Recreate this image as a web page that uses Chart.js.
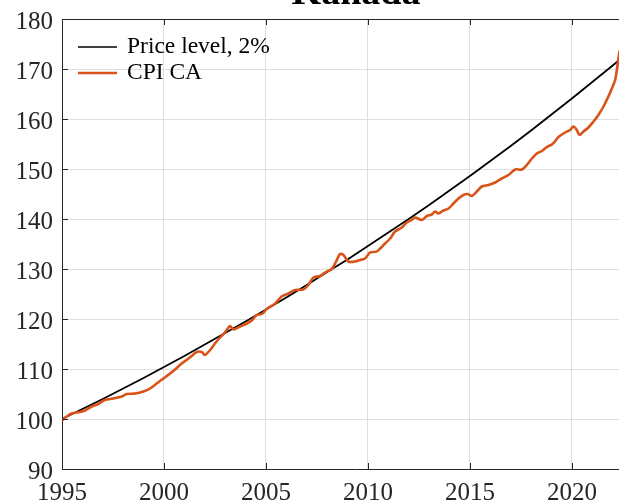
<!DOCTYPE html>
<html>
<head>
<meta charset="utf-8">
<script src="https://cdn.jsdelivr.net/npm/chart.js@4.4.1/dist/chart.umd.min.js"></script>
<style>
  html, body { margin: 0; padding: 0; background: #fff; overflow: hidden; width: 619px; height: 504px; }
  #wrap { position: absolute; left: 0; top: 0; width: 650px; height: 504px; }
</style>
</head>
<body>
<div id="wrap"><canvas id="c" width="650" height="504"></canvas></div>
<script>
const chartTitle = 'Kanada';
const seriesLabels = ['Price level, 2%', 'CPI CA'];
const seriesColors = ['#000000', '#D95319'];

const xTickLabels = [1995, 2000, 2005, 2010, 2015, 2020];
const yTickLabels = [90, 100, 110, 120, 130, 140, 150, 160, 170, 180];

// Price level growing 2% per year (yearly)
const priceYears = [1995,1996,1997,1998,1999,2000,2001,2002,2003,2004,2005,2006,2007,2008,2009,2010,2011,2012,2013,2014,2015,2016,2017,2018,2019,2020,2021,2022,2023];
const priceValues = [100,102,104,106.1,108.2,110.4,112.6,114.9,117.2,119.5,121.9,124.3,126.8,129.4,131.9,134.6,137.3,140.0,142.8,145.7,148.6,151.6,154.6,157.7,160.9,164.1,167.4,170.7,174.1];

// CPI Canada
const cpiYears = [1995.0,1995.23,1995.47,1995.88,1996.13,1996.46,1996.78,1997.1,1997.52,1997.93,1998.17,1998.58,1998.99,1999.32,1999.64,1999.97,2000.3,2000.54,2000.87,2001.11,2001.36,2001.6,2001.85,2002.0,2002.26,2002.5,2002.75,2002.99,2003.24,2003.4,2003.73,2004.06,2004.3,2004.55,2004.79,2005.04,2005.45,2005.77,2006.1,2006.43,2006.83,2007.08,2007.33,2007.65,2007.98,2008.23,2008.44,2008.63,2008.8,2009.04,2009.37,2009.61,2009.86,2010.1,2010.43,2010.84,2011.09,2011.33,2011.66,2011.9,2012.15,2012.31,2012.64,2012.89,2013.13,2013.29,2013.46,2013.7,2013.95,2014.19,2014.44,2014.68,2014.9,2015.09,2015.34,2015.58,2015.91,2016.24,2016.56,2016.89,2017.22,2017.55,2017.79,2018.04,2018.28,2018.53,2018.77,2019.05,2019.34,2019.67,2019.91,2020.08,2020.24,2020.37,2020.57,2020.81,2021.06,2021.3,2021.55,2021.79,2021.96,2022.12,2022.23,2022.32,2022.45];
const cpiValues = [99.7,100.5,101.1,101.4,101.7,102.5,103.0,103.8,104.1,104.5,105.0,105.1,105.5,106.1,107.1,108.1,109.1,109.9,111.1,111.8,112.6,113.4,113.4,112.8,113.8,115.1,116.3,117.3,118.6,117.9,118.5,119.1,119.7,120.8,121.0,122.0,123.1,124.5,125.1,125.8,125.9,126.8,128.3,128.6,129.5,130.0,131.5,133.0,132.8,131.5,131.5,131.8,132.1,133.3,133.5,135.1,136.1,137.5,138.3,139.3,139.8,140.3,139.8,140.6,140.9,141.5,141.1,141.7,142.1,143.1,144.1,144.8,145.0,144.6,145.5,146.5,146.8,147.3,148.1,148.8,149.9,149.9,150.8,152.1,153.1,153.6,154.4,155.0,156.4,157.3,157.8,158.5,157.8,156.8,157.5,158.3,159.5,160.8,162.5,164.5,166.1,167.8,170.5,173.1,175.0];

const FONT = "'Liberation Serif', 'Times New Roman', serif";
const AXIS_COLOR = '#262626';

const toPoints = (xs, ys) => xs.map((x, i) => ({ x: x, y: ys[i] }));

const framePlugin = {
  id: 'frame',
  afterDraw(chart) {
    const ctx = chart.ctx;
    const a = chart.chartArea;
    const xs = chart.scales.x, ys = chart.scales.y;
    ctx.save();
    ctx.strokeStyle = AXIS_COLOR;
    ctx.lineWidth = 1;
    ctx.beginPath();
    ctx.moveTo(a.left, Math.round(a.top) + 0.5);
    ctx.lineTo(a.right, Math.round(a.top) + 0.5);
    const tl = 6;
    xTickLabels.forEach(v => {
      const px = Math.round(xs.getPixelForValue(v)) + 0.5;
      ctx.moveTo(px, a.bottom);
      ctx.lineTo(px, a.bottom - tl);
      ctx.moveTo(px, a.top);
      ctx.lineTo(px, a.top + tl);
    });
    yTickLabels.forEach(v => {
      const py = Math.round(ys.getPixelForValue(v)) + 0.5;
      ctx.moveTo(a.left, py);
      ctx.lineTo(a.left + tl, py);
    });
    ctx.stroke();

    // tick labels
    ctx.fillStyle = AXIS_COLOR;
    ctx.font = '25px ' + FONT;
    ctx.textBaseline = 'alphabetic';
    ctx.textAlign = 'center';
    xTickLabels.forEach(v => {
      ctx.fillText(String(v), xs.getPixelForValue(v), a.bottom + 31);
    });
    ctx.textAlign = 'right';
    yTickLabels.forEach(v => {
      ctx.fillText(String(v), a.left - 9, ys.getPixelForValue(v) + 10);
    });

    // legend inside the plot
    ctx.font = '23.5px ' + FONT;
    ctx.textBaseline = 'middle';
    ctx.textAlign = 'left';
    const lx0 = a.left + 16, lx1 = a.left + 55, tx = a.left + 65;
    const rows = [47, 73];
    seriesLabels.forEach((lab, i) => {
      ctx.strokeStyle = seriesColors[i];
      ctx.lineWidth = i === 1 ? 2.5 : 1.6;
      ctx.beginPath();
      ctx.moveTo(lx0, rows[i]);
      ctx.lineTo(lx1, rows[i]);
      ctx.stroke();
      ctx.fillStyle = '#000';
      ctx.fillText(lab, tx, rows[i]);
    });

    // title (mostly above the visible area)
    ctx.font = 'bold 38px ' + FONT;
    ctx.textAlign = 'center';
    ctx.textBaseline = 'alphabetic';
    ctx.fillStyle = '#000';
    ctx.fillText(chartTitle, (a.left + a.right) / 2, 4);
    ctx.restore();
  }
};

new Chart(document.getElementById('c'), {
  type: 'line',
  data: {
    datasets: [
      {
        label: seriesLabels[0],
        data: toPoints(priceYears, priceValues),
        borderColor: seriesColors[0],
        borderWidth: 1.8,
        pointRadius: 0,
        tension: 0,
        fill: false,
        order: 1
      },
      {
        label: seriesLabels[1],
        data: toPoints(cpiYears, cpiValues),
        borderColor: seriesColors[1],
        borderWidth: 2.6,
        pointRadius: 0,
        tension: 0.3,
        fill: false,
        order: 0
      }
    ]
  },
  options: {
    responsive: false,
    animation: false,
    devicePixelRatio: 1,
    layout: { padding: { top: 19, right: 0, bottom: 0, left: 0 } },
    plugins: {
      legend: { display: false },
      title: { display: false },
      tooltip: { enabled: false }
    },
    scales: {
      x: {
        type: 'linear',
        min: 1995,
        max: 2023.83,
        afterBuildTicks: s => { s.ticks = xTickLabels.map(v => ({ value: v })); },
        afterFit: s => { s.height = 35; },
        ticks: { display: false },
        grid: { color: '#dedede', lineWidth: 1, drawTicks: false },
        border: { display: true, color: AXIS_COLOR, width: 1 }
      },
      y: {
        type: 'linear',
        min: 90,
        max: 180,
        afterBuildTicks: s => { s.ticks = yTickLabels.map(v => ({ value: v })); },
        afterFit: s => { s.width = 62; },
        ticks: { display: false },
        grid: { color: '#dedede', lineWidth: 1, drawTicks: false },
        border: { display: true, color: AXIS_COLOR, width: 1 }
      }
    }
  },
  plugins: [framePlugin]
});
</script>
</body>
</html>
